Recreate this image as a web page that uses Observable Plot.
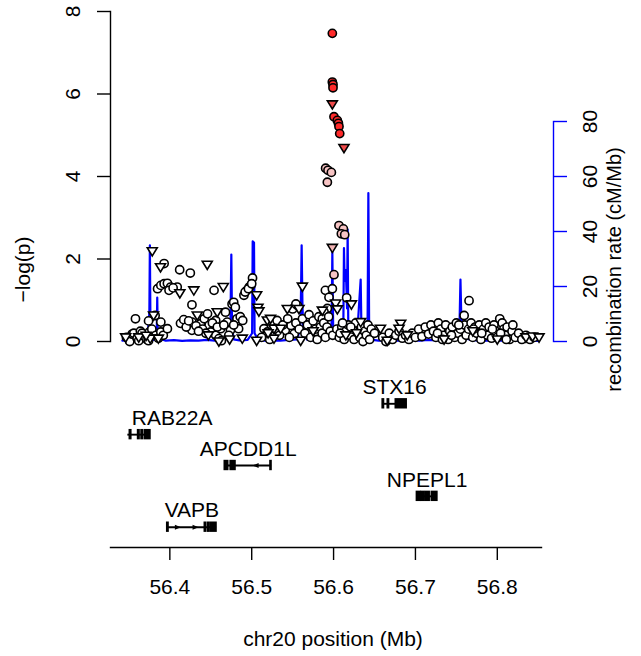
<!DOCTYPE html>
<html><head><meta charset="utf-8">
<script src="https://cdn.jsdelivr.net/npm/d3@7"></script>
<script src="https://cdn.jsdelivr.net/npm/@observablehq/plot@0.6"></script>
<style>
body{margin:0;background:#fff;}
#chart{position:relative;width:641px;height:656px;}
#chart svg{position:absolute;left:0;top:0;}
</style></head><body><div id="chart"></div>
<script>
const FONT = "'Liberation Sans', Arial, Helvetica, sans-serif";
const xDomain = [56.3275, 56.854];
const xTicks = [56.4, 56.5, 56.6, 56.7, 56.8];
const yTicks = [0, 2, 4, 6, 8];
const recombTicks = [0, 20, 40, 60, 80];
const xTitle = "chr20 position (Mb)";
const yTitle = "\u2212log(p)";
const recombTitle = "recombination rate (cM/Mb)";

// SNPs: [position (Mb), -log10 p]
const circlesWhite = [
[56.347,0.10],[56.351,0.00],[56.354,0.18],[56.356,0.20],[56.358,0.55],[56.360,0.08],[56.362,0.02],[56.364,0.25],[56.366,0.20],[56.369,0.12],[56.372,0.05],[56.374,0.02],[56.375,0.23],[56.374,0.50],[56.378,0.30],[56.382,0.63],[56.383,0.15],[56.386,0.08],[56.389,0.23],[56.389,0.47],[56.392,0.15],[56.397,0.31],[56.393,1.89],
[56.385,1.28],[56.389,1.36],[56.393,1.40],[56.397,1.41],[56.401,1.32],[56.399,1.24],[56.409,1.32],[56.404,1.30],
[56.412,1.74],[56.425,1.66],[56.454,1.24],[56.427,0.89],
[56.413,0.44],[56.417,0.53],[56.427,0.27],[56.427,0.47],[56.4375,0.43],[56.442,0.55],[56.446,0.67],[56.448,0.39],[56.450,0.23],[56.456,0.51],[56.456,0.15],[56.460,0.07],[56.462,0.31],[56.468,0.71],[56.470,0.47],[56.474,0.27],[56.476,0.91],[56.478,0.95],[56.480,0.83],[56.482,0.55],[56.486,0.60],[56.489,0.51],[56.484,0.31],
[56.420,0.35],[56.432,0.38],[56.440,0.30],[56.444,0.20],[56.452,0.45],[56.458,0.35],[56.466,0.40],[56.472,0.15],[56.478,0.40],[56.463,0.02],[56.435,0.25],[56.423,0.50],
[56.4905,1.12],[56.494,1.24],[56.497,1.32],[56.499,1.36],[56.501,1.54],[56.492,1.20],[56.496,1.28],[56.500,1.40],
[56.515,0.31],[56.519,0.23],[56.525,0.49],[56.531,0.51],[56.541,0.27],[56.548,0.39],[56.552,0.19],[56.550,0.79],[56.556,0.87],[56.554,0.91],
[56.512,0.10],[56.522,0.05],[56.528,0.30],[56.534,0.15],[56.538,0.40],[56.544,0.55],[56.546,0.10],[56.554,0.45],[56.558,0.30],[56.562,0.55],[56.565,0.20],[56.568,0.40],[56.570,0.65],[56.572,0.10],[56.575,0.50],[56.578,0.30],[56.580,0.05],[56.582,0.60],[56.584,0.35],[56.586,0.20],
[56.590,1.24],[56.5944,1.07],[56.5985,1.28],
[56.5924,0.80],[56.5883,0.72],[56.5863,0.55],[56.588,0.45],[56.592,0.35],[56.596,0.25],[56.590,0.10],[56.594,0.60],[56.599,0.15],
[56.604,0.30],[56.607,0.10],[56.610,0.35],[56.613,0.05],[56.615,0.25],[56.618,0.40],[56.620,0.15],[56.623,0.30],[56.625,0.05],[56.627,0.45],[56.630,0.20],[56.632,0.10],[56.634,0.35],[56.636,0.00],[56.638,0.25],[56.640,0.15],[56.642,0.40],[56.644,0.05],[56.646,0.30],[56.650,0.20],[56.616,1.06],[56.608,0.20],[56.611,0.45],[56.621,0.35],
[56.660,0.10],[56.664,0.00],[56.668,0.20],[56.672,0.05],[56.676,0.15],[56.680,0.25],[56.684,0.08],[56.688,0.15],[56.692,0.05],[56.696,0.20],[56.700,0.10],[56.704,0.30],[56.708,0.12],[56.712,0.35],[56.716,0.18],
[56.719,0.40],[56.722,0.25],[56.725,0.10],[56.728,0.45],[56.731,0.30],[56.734,0.15],[56.737,0.40],[56.740,0.05],[56.742,0.25],[56.745,0.35],[56.748,0.10],[56.750,0.45],[56.752,0.20],[56.755,0.30],[56.757,0.05],[56.760,0.40],[56.7595,0.63],[56.7655,0.99],[56.762,0.15],[56.765,0.30],[56.768,0.45],[56.770,0.10],[56.773,0.35],[56.775,0.20],[56.778,0.40],[56.780,0.05],[56.783,0.30],[56.786,0.45],[56.788,0.15],[56.790,0.35],[56.793,0.08],[56.796,0.40],[56.798,0.25],[56.800,0.10],[56.803,0.55],[56.806,0.45],[56.808,0.30],[56.810,0.15],[56.812,0.35],[56.815,0.05],[56.818,0.25],[56.822,0.10],[56.826,0.20],[56.830,0.05],[56.835,0.15],[56.840,0.05],[56.845,0.10],
[56.727,0.20],[56.733,0.05],[56.744,0.15],[56.753,0.40],[56.771,0.30],[56.781,0.20],[56.794,0.30],[56.804,0.20],[56.811,0.05],[56.819,0.40]
];
const trianglesWhite = [
[56.346,0.10],[56.376,0.07],[56.386,0.07],[56.3785,2.19],[56.3886,1.80],[56.3801,0.63],[56.4457,1.86],[56.4122,1.17],[56.4293,1.24],[56.4653,1.32],[56.4335,0.63],[56.4579,0.71],[56.4599,0.00],[56.4885,0.07],[56.5060,0.02],[56.5272,0.07],[56.5598,0.02],[56.5060,1.12],[56.5076,0.82],[56.5088,0.73],[56.5191,0.51],[56.5230,0.55],[56.5272,0.31],[56.5353,0.31],[56.5435,0.79],[56.5577,0.79],[56.5619,1.33],[56.5863,0.75],[56.6025,0.92],[56.6046,0.78],[56.6218,0.90],[56.6331,0.47],[56.6573,0.31],[56.6655,0.02],[56.6820,0.43],[56.6800,0.31],[56.8350,0.10],[56.8430,0.12],[56.8510,0.10],
[56.447,0.15],[56.473,0.05],[56.520,0.20],[56.575,0.25],[56.615,0.15],[56.628,0.20],[56.690,0.15],[56.735,0.05],[56.770,0.25],[56.800,0.05],[56.362,0.10],[56.371,0.14]
];
const circlesPink = [[56.5903,4.20],[56.5932,4.15],[56.5973,4.10],[56.5924,3.86],[56.6066,2.81],[56.6120,2.73],[56.6095,2.61],[56.6136,2.59],[56.6005,1.62]];
const trianglesPink = [[56.5985,2.27]];
const circlesRed = [[56.5985,7.47],[56.5985,6.29],[56.5993,6.23],[56.5993,6.15],[56.6005,5.45],[56.6046,5.36],[56.6059,5.29],[56.6066,5.21],[56.6075,5.04]];
const trianglesRed = [[56.5985,5.75],[56.6127,4.69]];

// recombination rate: position (Mb), rate (cM/Mb)
const recombPos = [56.3420,56.3500,56.3580,56.3650,56.3720,56.3745,56.3750,56.3756,56.3762,56.3770,56.3800,56.3840,56.3846,56.3852,56.3880,56.3950,56.4050,56.4150,56.4250,56.4350,56.4450,56.4550,56.4650,56.4700,56.4740,56.4751,56.4760,56.4780,56.4850,56.4950,56.5005,56.5012,56.5028,56.5035,56.5080,56.5150,56.5250,56.5350,56.5450,56.5550,56.5590,56.5600,56.5610,56.5620,56.5632,56.5680,56.5750,56.5850,56.5930,56.5975,56.5985,56.5995,56.6040,56.6080,56.6110,56.6120,56.6127,56.6135,56.6150,56.6165,56.6172,56.6180,56.6220,56.6290,56.6300,56.6331,56.6340,56.6380,56.6415,56.6425,56.6435,56.6480,56.6550,56.6650,56.6750,56.6850,56.6950,56.7050,56.7150,56.7250,56.7350,56.7450,56.7520,56.7540,56.7550,56.7560,56.7580,56.7620,56.7700,56.7800,56.7900,56.8000,56.8100,56.8200,56.8300,56.8400,56.8500];
const recombRate = [0.3,0.5,0.2,0.8,0.4,8,11,35,10,2,0.6,3,16,3,1.0,0.3,0.5,0.2,0.4,0.3,0.6,0.3,0.5,1.0,6,31.6,5,0.8,0.4,0.6,3,36.4,36,3,0.5,0.3,0.4,0.3,0.6,0.8,4,13,35,13,3,0.6,0.4,0.8,1.0,4,32.5,5,1.0,2,4,8,34,22,26,12,40.7,4,1.5,3,8,22.5,5,1.5,4,54,3,0.6,0.3,0.2,0.4,0.3,0.5,0.3,0.6,0.4,0.6,0.8,3,8,22.5,9,4,1.0,0.5,0.3,0.4,0.3,0.4,0.2,0.3,0.3,0.2];

// genes
const geneNames = ["RAB22A","APCDD1L","VAPB","STX16","NPEPL1"];
const geneStart = [56.3487,56.4670,56.3967,56.6597,56.7017];
const geneEnd   = [56.3764,56.5243,56.4571,56.6894,56.7269];
const geneStrand = ["+","-","+","+","+"];
const geneRow = [2,3,5,1,4];
const geneExons = [
  [[56.3510,56.3530],[56.3611,56.3631],[56.3653,56.3673],[56.3694,56.3764]],
  [[56.4670,56.4714],[56.4742,56.4803],[56.5228,56.5243]],
  [[56.3967,56.3985],[56.4426,56.4446],[56.4467,56.4487],[56.4505,56.4571]],
  [[56.6599,56.6617],[56.6661,56.6679],[56.6759,56.6894]],
  [[56.7017,56.7066],[56.7077,56.7114],[56.7130,56.7175],[56.7199,56.7269]]
];
const geneArrows = [[],[56.5048],[56.4098,56.4314],[],[]];

// ---------- build tables ----------
const toRows = arr => arr.map(([pos, logp]) => ({pos, logp}));
const recomb = recombPos.map((pos, i) => ({pos, rate: recombRate[i]}));
const genes = geneNames.map((name, i) => ({name, start: geneStart[i], end: geneEnd[i], strand: geneStrand[i], row: geneRow[i]}));
const exons = genes.flatMap((g, i) => geneExons[i].map(([s, e]) => ({start: s, end: e, row: g.row})));
const arrows = genes.flatMap((g, i) => geneArrows[i].map(p => ({pos: p, row: g.row, strand: g.strand})));

const triDown = {draw(ctx, size) {const r = Math.sqrt(size / Math.PI); ctx.moveTo(-1.22 * r, -0.85 * r); ctx.lineTo(1.22 * r, -0.85 * r); ctx.lineTo(0, 1.15 * r); ctx.closePath();}};
const arrowRight = {draw(ctx, size) {const r = Math.sqrt(size / Math.PI); ctx.moveTo(-r, -0.85 * r); ctx.lineTo(r, 0); ctx.lineTo(-r, 0.85 * r); ctx.closePath();}};
const arrowLeft = {draw(ctx, size) {const r = Math.sqrt(size / Math.PI); ctx.moveTo(r, -0.85 * r); ctx.lineTo(-r, 0); ctx.lineTo(r, 0.85 * r); ctx.closePath();}};

const W = 641, H = 656;
const style = {background: "none", overflow: "visible", fontFamily: FONT, fontSize: "21px", color: "black"};
const X_LEFT = 110, X_RIGHT = 541;

// Layer 1: recombination rate and right axis
const layer1 = Plot.plot({
  width: W, height: H,
  marginLeft: X_LEFT, marginRight: 88, marginTop: 121, marginBottom: 315,
  x: {domain: xDomain, range: [X_LEFT, X_RIGHT], axis: null},
  y: {domain: [0, 80], axis: null},
  style,
  marks: [
    Plot.line(recomb, {x: "pos", y: "rate", stroke: "blue", strokeWidth: 2.2}),
    Plot.frame({anchor: "right", stroke: "blue", strokeWidth: 1.4}),
    Plot.axisY({anchor: "right", ticks: recombTicks, tickSize: 13, stroke: "blue", strokeWidth: 1.4, fill: "none", label: null}),
    Plot.text(recombTicks, {y: d => d, text: d => String(d), frameAnchor: "right", dx: 37, rotate: -90, textAnchor: "middle", lineAnchor: "middle", fill: "black"}),
    Plot.text([recombTitle], {frameAnchor: "right", dx: 61, dy: 38, rotate: -90, fontSize: 20, textAnchor: "middle", lineAnchor: "middle", fill: "black"})
  ]
});

// Layer 2: association points and left axis
const dotOpts = {x: "pos", y: "logp", r: 4.1, stroke: "black", strokeWidth: 1.6};
const layer2 = Plot.plot({
  width: W, height: H,
  marginLeft: X_LEFT, marginRight: W - X_RIGHT, marginTop: 11, marginBottom: 315,
  x: {domain: xDomain, axis: null},
  y: {domain: [0, 8], axis: null},
  style,
  marks: [
    Plot.frame({anchor: "left", strokeWidth: 1.4}),
    Plot.axisY({anchor: "left", ticks: yTicks, tickSize: 13, strokeWidth: 1.4, fill: "none", label: null}),
    Plot.text(yTicks, {y: d => d, text: d => String(d), frameAnchor: "left", dx: -37.5, rotate: -90, textAnchor: "middle", lineAnchor: "middle"}),
    Plot.text([yTitle], {frameAnchor: "left", dx: -87, dy: 93, rotate: -90, textAnchor: "middle", lineAnchor: "middle"}),
    Plot.dot(toRows(circlesWhite), {...dotOpts, fill: "white", symbol: "circle"}),
    Plot.dot(toRows(trianglesWhite), {...dotOpts, fill: "white", symbol: triDown}),
    Plot.dot(toRows(circlesPink), {...dotOpts, fill: "#F7C4C4", symbol: "circle"}),
    Plot.dot(toRows(trianglesPink), {...dotOpts, fill: "#F3B5B5", symbol: triDown}),
    Plot.dot(toRows(circlesRed), {...dotOpts, fill: "#FF2A2A", symbol: "circle"}),
    Plot.dot(toRows(trianglesRed), {...dotOpts, fill: "#F04A4A", symbol: triDown})
  ]
});

// Layer 3: genes and x axis
const xpx = d3.scaleLinear(xDomain, [X_LEFT, X_RIGHT]);
const labelFits = g => xpx((g.start + g.end) / 2) - g.name.length * 6.5 >= X_LEFT;
const layer3 = Plot.plot({
  width: W, height: H,
  marginLeft: X_LEFT, marginRight: W - X_RIGHT, marginTop: 380, marginBottom: 109,
  x: {domain: xDomain, axis: null},
  y: {domain: [1, 5], range: [403.3, 526.7], axis: null},
  style,
  marks: [
    Plot.frame({anchor: "bottom", strokeWidth: 1.4}),
    Plot.axisX({anchor: "bottom", ticks: xTicks, tickSize: 13, tickPadding: 19, strokeWidth: 1.4, tickFormat: d => d.toFixed(1), label: null}),
    Plot.text([xTitle], {frameAnchor: "bottom", dx: 7, dy: 91.5, textAnchor: "middle", lineAnchor: "middle"}),
    Plot.ruleY(genes, {y: "row", x1: "start", x2: "end", strokeWidth: 1.9}),
    Plot.rect(exons, {x1: "start", x2: "end", y1: "row", y2: "row", insetTop: -5.2, insetBottom: -5.2, insetLeft: -0.7, insetRight: -0.7, fill: "black"}),
    Plot.dot(arrows.filter(a => a.strand === "+"), {x: "pos", y: "row", r: 3, fill: "black", stroke: "none", symbol: arrowRight}),
    Plot.dot(arrows.filter(a => a.strand === "-"), {x: "pos", y: "row", r: 3, fill: "black", stroke: "none", symbol: arrowLeft}),
    Plot.text(genes.filter(labelFits), {x: d => (d.start + d.end) / 2, y: "row", text: "name", dy: -16.5, textAnchor: "middle", lineAnchor: "middle"}),
    Plot.text(genes.filter(g => !labelFits(g)), {x: "start", y: "row", text: "name", dx: 4, dy: -16.5, textAnchor: "start", lineAnchor: "middle"})
  ]
});

const chart = document.getElementById("chart");
chart.append(layer1, layer2, layer3);
</script>
</body></html>
